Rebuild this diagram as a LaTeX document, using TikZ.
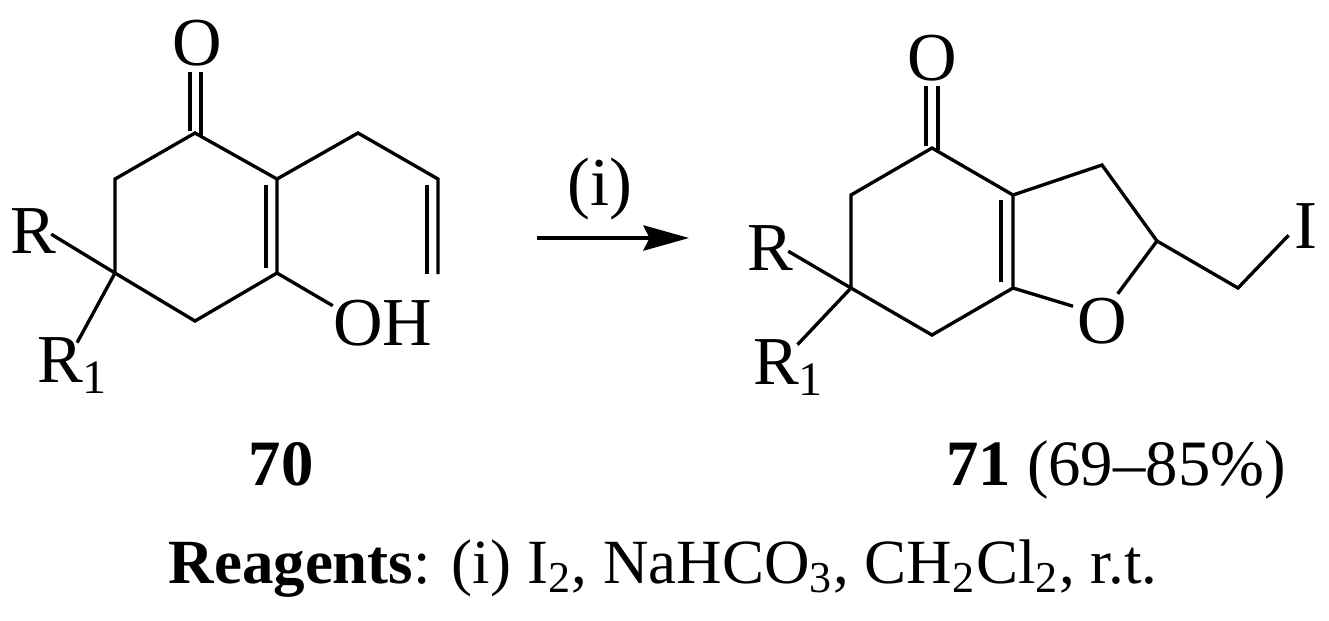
\documentclass[tikz,border=0pt]{standalone}
\usepackage{fontspec}
\usepackage{amsmath}
\setmainfont{Liberation Serif}
\usetikzlibrary{arrows.meta}
\tikzset{
  atom/.style={draw=none,inner sep=-1.5pt,font=\fontsize{19.5}{24}\selectfont},
  caption/.style={draw=none,inner sep=0pt,anchor=base,font=\fontsize{18.4}{24}\selectfont},
  bond/.style={line width=.95pt,line join=miter},
  rxnarrow/.style={line width=.95pt,-{Stealth[length=13pt,width=7.2pt,inset=1.8pt]}}
}
\begin{document}
\begin{tikzpicture}[x=.01cm,y=-.01cm]
  \useasboundingbox (0,0) rectangle (1329,620);

  % left ring
  \coordinate (a1) at (195,133);
  \coordinate (a2) at (277,179);
  \coordinate (a3) at (277,273);
  \coordinate (a4) at (195,321);
  \coordinate (a5) at (115,273);
  \coordinate (a6) at (115,179);
  \coordinate (a7) at (358,133);
  \coordinate (a8) at (438,179);
  \coordinate (a9) at (438,274);
  \coordinate (a10) at (427,185);
  \coordinate (a11) at (427,274);
  \coordinate (a12) at (266,185);
  \coordinate (a13) at (266,268);
  \coordinate (a14) at (190,131);
  \coordinate (a15) at (201,135);
  \coordinate (a16) at (190,72);
  \coordinate (a17) at (201,72);

  \node[atom] (oa) at (197,43) {O};
  \node[atom,inner sep=0pt] (oh) at (383,323) {OH};
  \node[atom] (ra) at (33,231) {R};
  \node[atom] (rb) at (73,366) {R\textsubscript{1}};

  \draw[bond] (a1)--(a2)--(a3)--(a4)--(a5)--(a6)--cycle;
  \draw[bond] (a2)--(a7)--(a8)--(a9);
  \draw[bond] (a10)--(a11);
  \draw[bond] (a12)--(a13);
  \draw[bond] (a14)--(a16);
  \draw[bond] (a15)--(a17);
  \draw[bond] (a3)--(oh.161);
  \draw[bond] (a5)--(ra.-10);
  \draw[bond] (a5)--(rb.80);

  % arrow
  \coordinate (s) at (537,238);
  \coordinate (e) at (689,238);
  \draw[rxnarrow] (s)--(e);
  \node[atom] (cond) at (600,189) {(i)};

  % right ring
  \coordinate (b1) at (932,148);
  \coordinate (b2) at (1013,195);
  \coordinate (b3) at (1013,288);
  \coordinate (b4) at (932,335);
  \coordinate (b5) at (851,288);
  \coordinate (b6) at (851,195);
  \coordinate (b7) at (1102,165);
  \coordinate (b8) at (1157,241);
  \coordinate (b9) at (1238,288);
  \coordinate (b10) at (1001,200);
  \coordinate (b11) at (1001,282);
  \coordinate (b12) at (926,146);
  \coordinate (b13) at (938,150);
  \coordinate (b14) at (926,86);
  \coordinate (b15) at (938,86);

  \node[atom] (oc) at (932,58) {O};
  \node[atom,inner sep=1pt] (od) at (1102,321) {O};
  \node[atom,inner sep=1.5pt] (ia) at (1306,226) {I};
  \node[atom] (rc) at (770,248) {R};
  \node[atom] (rd) at (789,368) {R\textsubscript{1}};

  \draw[bond] (b1)--(b2)--(b3)--(b4)--(b5)--(b6)--cycle;
  \draw[bond] (b2)--(b7)--(b8);
  \draw[bond] (b10)--(b11);
  \draw[bond] (b12)--(b14);
  \draw[bond] (b13)--(b15);
  \draw[bond] (b3)--(od.153);
  \draw[bond] (b8)--(od.60);
  \draw[bond] (b8)--(b9)--(ia.208);
  \draw[bond] (b5)--(rc.-10);
  \draw[bond] (b5)--(rd.70);

  \node[caption] (lab70) at (281,485) {\textbf{70}};
  \node[caption] (lab71) at (1116,485) {\textbf{71} (69--85\%)};
  \node[caption,font=\fontsize{17.9}{24}\selectfont] (reag) at (663,583) {\textbf{Reagents}: (i) I\textsubscript{2}, NaHCO\textsubscript{3}, CH\textsubscript{2}Cl\textsubscript{2}, r.t.};
\end{tikzpicture}
\end{document}
